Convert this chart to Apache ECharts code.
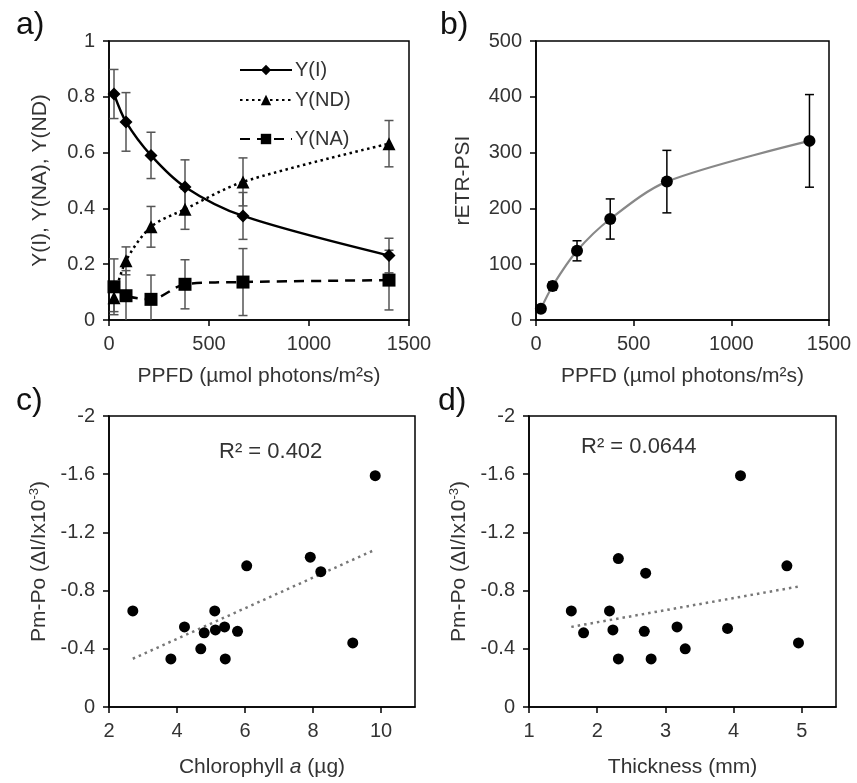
<!DOCTYPE html>
<html>
<head>
<meta charset="utf-8">
<script src="https://cdn.jsdelivr.net/npm/echarts@6/dist/echarts.min.js"></script>
<style>
html,body{margin:0;padding:0;background:#fff;}
#chart{width:857px;height:783px;}
</style>
</head>
<body>
<div id="chart"></div>
<script>
// ---- Data ----
const ppfd = [25, 85, 210, 380, 670, 1400];
const yI = [0.810, 0.710, 0.590, 0.477, 0.373, 0.231];
const yIErr = [0.088, 0.105, 0.083, 0.097, 0.084, 0.062];
const yND = [0.080, 0.212, 0.334, 0.397, 0.495, 0.632];
const yNDErr = [0.050, 0.050, 0.073, 0.072, 0.086, 0.083];
const yNA = [0.119, 0.087, 0.074, 0.128, 0.136, 0.143];
const yNAErr = [0.100, 0.090, 0.087, 0.088, 0.120, 0.107];

const retr = [20, 61, 124, 181, 248, 321];
const retrErr = [5, 7, 18, 36, 56, 83];

const chlA = [2.70, 3.82, 4.22, 4.70, 4.80, 5.11, 5.13, 5.40, 5.42, 5.78, 6.05, 7.92, 8.23, 9.17, 9.83];
const pmpoC = [-0.66, -0.33, -0.55, -0.40, -0.51, -0.66, -0.53, -0.55, -0.33, -0.52, -0.97, -1.03, -0.93, -0.44, -1.59];

const thick = [1.62, 1.80, 2.18, 2.23, 2.31, 2.31, 2.69, 2.71, 2.79, 3.17, 3.29, 3.91, 4.10, 4.78, 4.95];
const pmpoD = [-0.66, -0.51, -0.66, -0.53, -1.02, -0.33, -0.52, -0.92, -0.33, -0.55, -0.40, -0.54, -1.59, -0.97, -0.44];

const xTicksC = [2, 4, 6, 8, 10];
const xTicksD = [1, 2, 3, 4, 5];
const r2C = 'R² = 0.402';
const r2D = 'R² = 0.0644';

// ---- helpers ----
const FONT = 'Liberation Sans, Arial, sans-serif';
const TXT = '#333';
const plain = v => String(+v.toFixed(6));

function zip(xs, ys) { return xs.map((x, i) => [x, ys[i]]); }

function linReg(xs, ys) {
  const n = xs.length;
  const mx = xs.reduce((a, b) => a + b, 0) / n;
  const my = ys.reduce((a, b) => a + b, 0) / n;
  let sxy = 0, sxx = 0;
  for (let i = 0; i < n; i++) { sxy += (xs[i] - mx) * (ys[i] - my); sxx += (xs[i] - mx) ** 2; }
  const b = sxy / sxx, a = my - b * mx;
  const x0 = Math.min(...xs), x1 = Math.max(...xs);
  return [[x0, a + b * x0], [x1, a + b * x1]];
}

function errSeries(idx, xs, ys, es, color, capW, lw) {
  return {
    type: 'custom', xAxisIndex: idx, yAxisIndex: idx, z: 1, silent: true, clip: true,
    data: xs.map((x, i) => [x, ys[i] - es[i], ys[i] + es[i]]),
    encode: { x: 0, y: [1, 2] },
    renderItem: function (params, api) {
      const x = api.value(0);
      const lo = api.coord([x, api.value(1)]);
      const hi = api.coord([x, api.value(2)]);
      const st = { stroke: color, lineWidth: lw, fill: null };
      return {
        type: 'group',
        children: [
          { type: 'line', shape: { x1: lo[0], y1: lo[1], x2: hi[0], y2: hi[1] }, style: st },
          { type: 'line', shape: { x1: lo[0] - capW / 2, y1: lo[1], x2: lo[0] + capW / 2, y2: lo[1] }, style: st },
          { type: 'line', shape: { x1: hi[0] - capW / 2, y1: hi[1], x2: hi[0] + capW / 2, y2: hi[1] }, style: st }
        ]
      };
    }
  };
}

function lbl(extra) {
  return Object.assign({ color: TXT, fontSize: 20, fontFamily: FONT, margin: 14, formatter: plain }, extra || {});
}

function baseAxis(extra) {
  return Object.assign({
    type: 'value',
    splitLine: { show: false },
    axisLine: { show: true, onZero: false, lineStyle: { color: '#000', width: 1.5 } },
    axisTick: { show: true, inside: false, length: 6, lineStyle: { color: '#000', width: 1.5 } },
    axisLabel: lbl(),
    nameLocation: 'middle',
    nameTextStyle: { color: TXT, fontSize: 21, fontFamily: FONT }
  }, extra);
}

const grids = [
  { left: 109, top: 41, width: 300, height: 279 },
  { left: 536, top: 41, width: 293, height: 279 },
  { left: 109, top: 416, width: 306, height: 291 },
  { left: 529, top: 416, width: 307, height: 291 }
].map(g => Object.assign({ show: true, borderColor: '#000', borderWidth: 1.5, backgroundColor: 'transparent' }, g));

const xAxes = [
  baseAxis({ gridIndex: 0, min: 0, max: 1500, interval: 500, name: 'PPFD (µmol photons/m²s)', nameGap: 46 }),
  baseAxis({ gridIndex: 1, min: 0, max: 1500, interval: 500, name: 'PPFD (µmol photons/m²s)', nameGap: 46 }),
  baseAxis({ gridIndex: 2, min: 2, max: 11, name: 'Chlorophyll {i|a} (µg)', nameGap: 50,
    nameTextStyle: { color: TXT, fontSize: 21, fontFamily: FONT, rich: { i: { fontStyle: 'italic', fontSize: 21, fontFamily: FONT, color: TXT } } },
    axisTick: { show: true, length: 6, customValues: xTicksC, lineStyle: { color: '#000', width: 1.5 } },
    axisLabel: lbl({ customValues: xTicksC }) }),
  baseAxis({ gridIndex: 3, min: 1, max: 5.5, name: 'Thickness (mm)', nameGap: 50,
    axisTick: { show: true, length: 6, customValues: xTicksD, lineStyle: { color: '#000', width: 1.5 } },
    axisLabel: lbl({ customValues: xTicksD }) })
];

const pmName = 'Pm-Po (ΔI/Ix10{sup|-3})';
const pmNameStyle = { color: TXT, fontSize: 21, fontFamily: FONT, rich: { sup: { fontSize: 13, fontFamily: FONT, color: TXT, verticalAlign: 'top', padding: [0, 0, 10, 0] } } };

const yAxes = [
  baseAxis({ gridIndex: 0, min: 0, max: 1, interval: 0.2, name: 'Y(I), Y(NA), Y(ND)', nameGap: 58 }),
  baseAxis({ gridIndex: 1, min: 0, max: 500, interval: 100, name: 'rETR-PSI', nameGap: 62 }),
  baseAxis({ gridIndex: 2, min: -2, max: 0, interval: 0.4, inverse: true, name: pmName, nameGap: 58, nameTextStyle: pmNameStyle }),
  baseAxis({ gridIndex: 3, min: -2, max: 0, interval: 0.4, inverse: true, name: pmName, nameGap: 58, nameTextStyle: pmNameStyle })
];

const EB = '#555';
const series = [
  errSeries(0, ppfd, yI, yIErr, EB, 9, 1.5),
  errSeries(0, ppfd, yND, yNDErr, EB, 9, 1.5),
  errSeries(0, ppfd, yNA, yNAErr, EB, 9, 1.5),
  { name: 'Y(I)', type: 'line', xAxisIndex: 0, yAxisIndex: 0, z: 3, data: zip(ppfd, yI), smooth: 0.3,
    symbol: 'diamond', symbolSize: 13, itemStyle: { color: '#000', opacity: 1 }, lineStyle: { color: '#000', width: 2.4, type: 'solid' } },
  { name: 'Y(ND)', type: 'line', xAxisIndex: 0, yAxisIndex: 0, z: 3, data: zip(ppfd, yND), smooth: 0.3,
    symbol: 'triangle', symbolSize: 13, itemStyle: { color: '#000', opacity: 1 }, lineStyle: { color: '#000', width: 2.5, type: [2.5, 3.5] } },
  { name: 'Y(NA)', type: 'line', xAxisIndex: 0, yAxisIndex: 0, z: 3, data: zip(ppfd, yNA), smooth: 0.3,
    symbol: 'rect', symbolSize: 13, itemStyle: { color: '#000', opacity: 1 }, lineStyle: { color: '#000', width: 2.5, type: [10, 7] } },

  errSeries(1, ppfd, retr, retrErr, '#000', 9, 1.5),
  { name: 'rETR-PSI', type: 'line', xAxisIndex: 1, yAxisIndex: 1, z: 3, data: zip(ppfd, retr), smooth: 0.3,
    symbol: 'circle', symbolSize: 12, itemStyle: { color: '#000', opacity: 1 }, lineStyle: { color: '#888', width: 2.2 } },

  { name: 'trendC', type: 'line', xAxisIndex: 2, yAxisIndex: 2, z: 2, data: linReg(chlA, pmpoC), symbol: 'none',
    lineStyle: { color: '#777', width: 2.5, type: [2.5, 4] } },
  { name: 'chl', type: 'scatter', xAxisIndex: 2, yAxisIndex: 2, z: 3, data: zip(chlA, pmpoC),
    symbol: 'circle', symbolSize: 11, itemStyle: { color: '#000', opacity: 1 } },

  { name: 'trendD', type: 'line', xAxisIndex: 3, yAxisIndex: 3, z: 2, data: linReg(thick, pmpoD), symbol: 'none',
    lineStyle: { color: '#777', width: 2.5, type: [2.5, 4] } },
  { name: 'thick', type: 'scatter', xAxisIndex: 3, yAxisIndex: 3, z: 3, data: zip(thick, pmpoD),
    symbol: 'circle', symbolSize: 11, itemStyle: { color: '#000', opacity: 1 } }
];

const legendBase = { orient: 'vertical', left: 234, itemWidth: 52, itemHeight: 13, itemGap: 4,
  textStyle: { color: TXT, fontSize: 20, fontFamily: FONT, padding: [0, 0, 0, -2] } };
const legends = [
  Object.assign({}, legendBase, { top: 55, data: ['Y(I)'] }),
  Object.assign({}, legendBase, { top: 85, data: ['Y(ND)'] }),
  Object.assign({}, legendBase, { top: 124, data: ['Y(NA)'] })
];

const titleStyle = { fontSize: 32, fontWeight: 'normal', color: '#111', fontFamily: FONT };
const r2Style = { fontSize: 22, fontWeight: 'normal', color: TXT, fontFamily: FONT };
const titles = [
  { text: 'a)', left: 11, top: 4, textStyle: titleStyle },
  { text: 'b)', left: 435, top: 4, textStyle: titleStyle },
  { text: 'c)', left: 11, top: 380, textStyle: titleStyle },
  { text: 'd)', left: 433, top: 380, textStyle: titleStyle },
  { text: r2C, left: 214, top: 436, textStyle: r2Style },
  { text: r2D, left: 576, top: 431, textStyle: r2Style }
];

const chart = echarts.init(document.getElementById('chart'), null, { renderer: 'canvas' });
chart.setOption({
  animation: false,
  backgroundColor: '#fff',
  title: titles,
  legend: legends,
  grid: grids,
  xAxis: xAxes,
  yAxis: yAxes,
  series: series
});
</script>
</body>
</html>
